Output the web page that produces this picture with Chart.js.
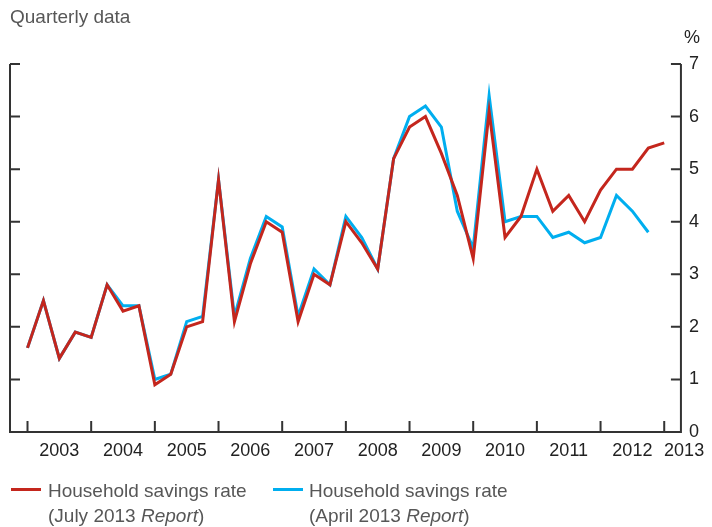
<!DOCTYPE html>
<html>
<head>
<meta charset="utf-8">
<script src="https://cdn.jsdelivr.net/npm/chart.js@4.4.1/dist/chart.umd.min.js"></script>
<style>
  body { margin: 0; background: #fff; }
  #wrap { position: relative; width: 712px; height: 527px; font-family: "Liberation Sans", Arial, sans-serif; }
  #chart { position: absolute; left: 0; top: 0; }
  .txt { position: absolute; white-space: nowrap; color: #575757; font-size: 19px; line-height: 25px; }
  .key { position: absolute; width: 30px; height: 3px; }
</style>
</head>
<body>
<div id="wrap">
  <canvas id="chart" width="712" height="527"></canvas>
  <div class="txt" style="left:10px; top:4px;">Quarterly data</div>
  <div class="txt" style="left:684px; top:27px; color:#222; font-size:18px; line-height:20px;">%</div>
  <span class="key" style="left:11px; top:488px; background:#c4261d;"></span>
  <div class="txt" style="left:48px; top:478px;">Household savings rate<br>(July 2013 <i>Report</i>)</div>
  <span class="key" style="left:273px; top:488px; background:#00aeef;"></span>
  <div class="txt" style="left:309px; top:478px;">Household savings rate<br>(April 2013 <i>Report</i>)</div>
</div>
<script>
// quarters plotted, 2003 Q1 to 2013 Q1
const quarters = [
  '2003 Q1', '2003 Q2', '2003 Q3', '2003 Q4', '2004 Q1', '2004 Q2', '2004 Q3', '2004 Q4',
  '2005 Q1', '2005 Q2', '2005 Q3', '2005 Q4', '2006 Q1', '2006 Q2', '2006 Q3', '2006 Q4',
  '2007 Q1', '2007 Q2', '2007 Q3', '2007 Q4', '2008 Q1', '2008 Q2', '2008 Q3', '2008 Q4',
  '2009 Q1', '2009 Q2', '2009 Q3', '2009 Q4', '2010 Q1', '2010 Q2', '2010 Q3', '2010 Q4',
  '2011 Q1', '2011 Q2', '2011 Q3', '2011 Q4', '2012 Q1', '2012 Q2', '2012 Q3', '2012 Q4',
  '2013 Q1'
];

// household savings rate, %
const julyReport = [
  1.6, 2.5, 1.4, 1.9, 1.8, 2.8, 2.3, 2.4,
  0.9, 1.1, 2.0, 2.1, 4.8, 2.1, 3.2, 4.0,
  3.8, 2.1, 3.0, 2.8, 4.0, 3.6, 3.1, 5.2,
  5.8, 6.0, 5.3, 4.5, 3.3, 6.1, 3.7, 4.1,
  5.0, 4.2, 4.5, 4.0, 4.6, 5.0, 5.0, 5.4,
  5.5
];
const aprilReport = [
  1.6, 2.5, 1.4, 1.9, 1.8, 2.8, 2.4, 2.4,
  1.0, 1.1, 2.1, 2.2, 4.8, 2.2, 3.3, 4.1,
  3.9, 2.2, 3.1, 2.8, 4.1, 3.7, 3.1, 5.2,
  6.0, 6.2, 5.8, 4.2, 3.5, 6.4, 4.0, 4.1,
  4.1, 3.7, 3.8, 3.6, 3.7, 4.5, 4.2, 3.8
];

const yearLabels = ['2003', '2004', '2005', '2006', '2007', '2008', '2009', '2010', '2011', '2012', '2013'];
const yTicks = [0, 1, 2, 3, 4, 5, 6, 7];

const toPoints = arr => arr.map((v, i) => ({ x: i, y: v }));

// year label sits mid-year; the last one is pulled in under the axis end
const yearPos = yearLabels.map((_, i) => i < yearLabels.length - 1 ? i * 4 + 2 : 41.25);

const fontFamily = '"Liberation Sans", Arial, sans-serif';

// frame, inward tick marks on both y axes and year marks on x axis
const axesFrame = {
  id: 'axesFrame',
  afterDatasetsDraw(chart) {
    const { ctx, chartArea: a, scales: { x, y } } = chart;
    ctx.save();
    ctx.strokeStyle = '#333';
    ctx.lineWidth = 2;
    ctx.beginPath();
    ctx.moveTo(a.left, a.top);
    ctx.lineTo(a.left, a.bottom);
    ctx.lineTo(a.right, a.bottom);
    ctx.lineTo(a.right, a.top);
    yTicks.forEach(v => {
      const py = y.getPixelForValue(v);
      ctx.moveTo(a.left, py);
      ctx.lineTo(a.left + 10, py);
      ctx.moveTo(a.right - 10, py);
      ctx.lineTo(a.right, py);
    });
    for (let q = 0; q < quarters.length; q += 4) {
      const px = x.getPixelForValue(q);
      ctx.moveTo(px, a.bottom);
      ctx.lineTo(px, a.bottom - 11);
    }
    ctx.stroke();
    ctx.restore();
  }
};

new Chart(document.getElementById('chart'), {
  type: 'line',
  data: {
    datasets: [
      {
        label: 'Household savings rate (July 2013 Report)',
        data: toPoints(julyReport),
        borderColor: '#c4261d',
        borderWidth: 3,
        pointRadius: 0,
        tension: 0
      },
      {
        label: 'Household savings rate (April 2013 Report)',
        data: toPoints(aprilReport),
        borderColor: '#00aeef',
        borderWidth: 3,
        pointRadius: 0,
        tension: 0
      }
    ]
  },
  options: {
    responsive: false,
    animation: false,
    layout: { padding: { left: 10, top: 64, right: 0, bottom: 55 } },
    plugins: {
      legend: { display: false },
      tooltip: { enabled: false }
    },
    scales: {
      x: {
        type: 'linear',
        position: 'bottom',
        min: -1.1,
        max: 41.05,
        grid: { display: false, drawTicks: false },
        border: { display: false },
        afterBuildTicks: scale => { scale.ticks = yearPos.map(v => ({ value: v })); },
        afterFit: scale => { scale.height = 40; },
        ticks: {
          autoSkip: false,
          maxRotation: 0,
          padding: 8,
          color: '#222',
          font: { size: 18, family: fontFamily },
          callback: (v, i) => yearLabels[i]
        }
      },
      y: {
        position: 'right',
        min: 0,
        max: 7,
        grid: { display: false, drawTicks: false },
        border: { display: false },
        afterFit: scale => { scale.width = 29; },
        ticks: {
          stepSize: 1,
          padding: 8,
          color: '#222',
          font: { size: 18, family: fontFamily }
        }
      }
    }
  },
  plugins: [axesFrame]
});
</script>
</body>
</html>
